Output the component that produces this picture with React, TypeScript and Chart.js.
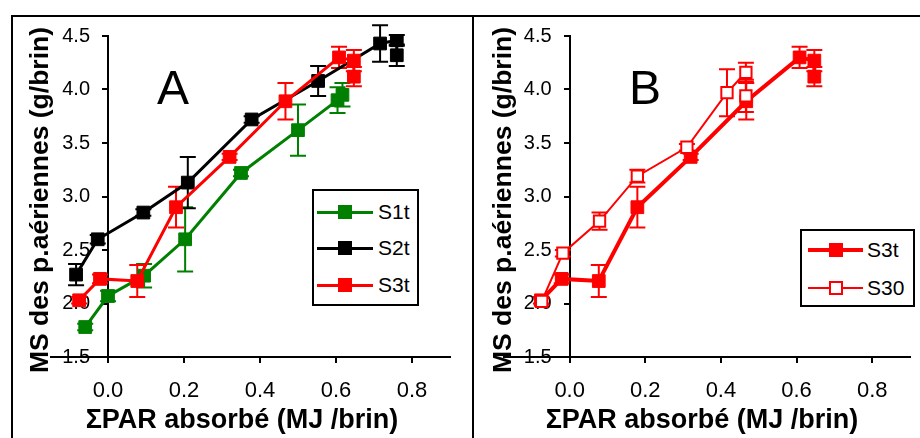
import React, { useEffect, useRef } from "react";
import { Chart, registerables } from "chart.js";

Chart.register(...registerables);

const FONT = "'Liberation Sans', Arial, Helvetica, sans-serif";

const xTicks = [0, 0.2, 0.4, 0.6, 0.8];
const yTicks = [1.5, 2.0, 2.5, 3.0, 3.5, 4.0, 4.5];

const xTitle = "ΣPAR absorbé (MJ /brin)";
const yTitle = "MS des p.aériennes (g/brin)";

// Panel A
const s1tX = [-0.06, 0.0, 0.095, 0.203, 0.35, 0.5, 0.604, 0.617];
const s1tY = [1.78, 2.07, 2.26, 2.6, 3.22, 3.62, 3.9, 3.95];
const s1tErr = [0.03, 0.05, 0.11, 0.3, 0.03, 0.24, 0.12, 0.11];

const s2tX = [-0.084, -0.027, 0.093, 0.21, 0.378, 0.553, 0.716, 0.76, 0.76];
const s2tY = [2.27, 2.6, 2.85, 3.13, 3.72, 4.08, 4.43, 4.46, 4.32];
const s2tErr = [0.1, 0.04, 0.03, 0.24, 0.03, 0.14, 0.17, 0.05, 0.1];

const s3tX = [-0.076, -0.021, 0.077, 0.179, 0.32, 0.467, 0.608, 0.647, 0.647];
const s3tY = [2.03, 2.23, 2.21, 2.9, 3.37, 3.89, 4.3, 4.27, 4.12];
const s3tErr = [0.03, 0.04, 0.15, 0.19, 0.03, 0.17, 0.1, 0.1, 0.09];

// Panel B
const s30X = [-0.074, -0.018, 0.079, 0.179, 0.31, 0.416, 0.466, 0.466];
const s30Y = [2.02, 2.47, 2.77, 3.19, 3.46, 3.97, 4.16, 3.94];
const s30Err = [0.03, 0.03, 0.08, 0.06, 0.03, 0.22, 0.09, 0.15];

const GREEN = "#008000";
const BLACK = "#000000";
const RED = "#ff0000";

type Pt = { x: number; y: number };
const pts = (xs: number[], ys: number[]): Pt[] => xs.map((x, i) => ({ x, y: ys[i] }));

const errorBars = {
  id: "errorBars",
  beforeDatasetsDraw(chart: any) {
    const { ctx } = chart;
    const xs = chart.scales.x;
    const ys = chart.scales.y;
    chart.data.datasets.forEach((ds: any, di: number) => {
      if (!ds.errors || !chart.isDatasetVisible(di)) return;
      ctx.save();
      ctx.strokeStyle = ds.borderColor;
      ctx.lineWidth = ds.errorLineWidth || 2;
      ds.data.forEach((p: Pt, j: number) => {
        const e = ds.errors[j];
        if (!e) return;
        const px = xs.getPixelForValue(p.x);
        const t = ys.getPixelForValue(p.y + e);
        const b = ys.getPixelForValue(p.y - e);
        const w = 8;
        ctx.beginPath();
        ctx.moveTo(px, t);
        ctx.lineTo(px, b);
        ctx.moveTo(px - w, t);
        ctx.lineTo(px + w, t);
        ctx.moveTo(px - w, b);
        ctx.lineTo(px + w, b);
        ctx.stroke();
      });
      ctx.restore();
    });
  },
};

// y axis sits at x = 0; move its tick labels left of the tick marks
const Y_LABEL_GAP = 18;
const shiftYLabels = {
  id: "shiftYLabels",
  beforeDraw(chart: any) {
    const s = chart.scales.y;
    const items = s.getLabelItems();
    items.forEach((it: any) => {
      if (!it._shifted) {
        const tr = it.options.translation;
        it.options.translation = [tr[0] - Y_LABEL_GAP, tr[1]];
        it._shifted = true;
      }
    });
  },
};

function buildOptions(xMin: number, pad: { left: number; right: number; top: number }) {
  return {
    animation: false,
    responsive: false,
    events: [],
    layout: { padding: { left: pad.left, right: pad.right, top: pad.top, bottom: 0 } },
    plugins: { legend: { display: false }, tooltip: { enabled: false } },
    elements: { line: { tension: 0 } },
    scales: {
      x: {
        type: "linear",
        position: "bottom",
        min: xMin,
        max: 0.9,
        afterBuildTicks: (s: any) => {
          s.ticks = xTicks.map((v) => ({ value: v }));
        },
        afterFit: (s: any) => {
          s.height = 81;
        },
        grid: { drawOnChartArea: false, drawTicks: true, tickLength: 6, color: "#000", lineWidth: 2 },
        border: { display: true, color: "#000", width: 2 },
        ticks: {
          color: "#000",
          font: { family: FONT, size: 22 },
          padding: 15,
          maxRotation: 0,
          autoSkip: false,
          callback: (v: any) => Number(v).toFixed(1),
        },
        title: { display: false },
      },
      y: {
        type: "linear",
        position: { x: 0 },
        min: 1.5,
        max: 4.5,
        z: 1,
        afterBuildTicks: (s: any) => {
          s.ticks = yTicks.map((v) => ({ value: v }));
        },
        grid: { drawOnChartArea: false, drawTicks: true, tickLength: 5, color: "#000", lineWidth: 2 },
        border: { display: true, color: "#000", width: 2 },
        ticks: {
          color: "#000",
          font: { family: FONT, size: 20 },
          padding: 0,
          autoSkip: false,
          callback: (v: any) => Number(v).toFixed(1),
        },
      },
    },
  };
}

function filledSeries(label: string, xs: number[], ys: number[], errs: number[], color: string, width: number, order: number) {
  return {
    label,
    data: pts(xs, ys),
    errors: errs,
    borderColor: color,
    backgroundColor: color,
    borderWidth: width,
    pointStyle: "rect",
    pointRadius: 9,
    pointBorderWidth: 1,
    pointBackgroundColor: color,
    pointBorderColor: color,
    errorLineWidth: 2,
    order,
  };
}

function configA() {
  return {
    type: "line",
    data: {
      datasets: [
        filledSeries("S1t", s1tX, s1tY, s1tErr, GREEN, 3, 2),
        filledSeries("S2t", s2tX, s2tY, s2tErr, BLACK, 3, 1),
        filledSeries("S3t", s3tX, s3tY, s3tErr, RED, 3, 0),
      ],
    },
    options: buildOptions(-0.15, { left: 38, right: 22, top: 19 }),
    plugins: [errorBars, shiftYLabels],
  };
}

function configB() {
  return {
    type: "line",
    data: {
      datasets: [
        filledSeries("S3t", s3tX, s3tY, s3tErr, RED, 4, 1),
        {
          label: "S30",
          data: pts(s30X, s30Y),
          errors: s30Err,
          borderColor: RED,
          backgroundColor: "#ffffff",
          borderWidth: 2,
          pointStyle: "rect",
          pointRadius: 8,
          pointBorderWidth: 2,
          pointBackgroundColor: "#ffffff",
          pointBorderColor: RED,
          errorLineWidth: 2,
          order: 0,
        },
      ],
    },
    options: buildOptions(-0.175, { left: 28.5, right: 8, top: 19 }),
    plugins: [errorBars, shiftYLabels],
  };
}

function ChartCanvas({ left, top, width, height, make }: any) {
  const ref = useRef<HTMLCanvasElement>(null);
  useEffect(() => {
    const chart = new Chart(ref.current as HTMLCanvasElement, make());
    return () => chart.destroy();
  }, []);
  return (
    <canvas
      ref={ref}
      width={width}
      height={height}
      style={{ position: "absolute", left, top, width, height }}
    />
  );
}

function YTitle({ cx, cy }: { cx: number; cy: number }) {
  return (
    <div
      style={{
        position: "absolute",
        left: cx - 220,
        top: cy - 16,
        width: 440,
        height: 32,
        lineHeight: "32px",
        textAlign: "center",
        fontFamily: FONT,
        fontWeight: "bold",
        fontSize: 26.5,
        color: "#000",
        transform: "rotate(-90deg)",
        whiteSpace: "nowrap",
      }}
    >
      {yTitle}
    </div>
  );
}

function XTitle({ cx, cy }: { cx: number; cy: number }) {
  return (
    <div
      style={{
        position: "absolute",
        left: cx - 220,
        top: cy - 16,
        width: 440,
        height: 32,
        lineHeight: "32px",
        textAlign: "center",
        fontFamily: FONT,
        fontWeight: "bold",
        fontSize: 27,
        color: "#000",
        whiteSpace: "nowrap",
      }}
    >
      {xTitle}
    </div>
  );
}

function PanelLetter({ left, text }: { left: number; text: string }) {
  return (
    <div
      style={{
        position: "absolute",
        left,
        top: 64,
        fontFamily: FONT,
        fontSize: 48,
        lineHeight: "48px",
        color: "#000",
      }}
    >
      {text}
    </div>
  );
}

type LegendItem = { label: string; color: string; lineW: number; filled: boolean; y: number };

function Legend({
  box,
  lineX1,
  lineX2,
  textX,
  items,
}: {
  box: { left: number; top: number; width: number; height: number };
  lineX1: number;
  lineX2: number;
  textX: number;
  items: LegendItem[];
}) {
  const mx = (lineX1 + lineX2) / 2;
  return (
    <>
      <div
        style={{
          position: "absolute",
          left: box.left,
          top: box.top,
          width: box.width,
          height: box.height,
          border: "2px solid #000",
          boxSizing: "border-box",
          background: "#fff",
        }}
      />
      {items.map((it) => (
        <React.Fragment key={it.label}>
          <div
            style={{
              position: "absolute",
              left: lineX1,
              top: it.y - it.lineW / 2,
              width: lineX2 - lineX1,
              height: it.lineW,
              background: it.color,
            }}
          />
          <div
            style={{
              position: "absolute",
              left: mx - 7,
              top: it.y - 7,
              width: 14,
              height: 14,
              boxSizing: "border-box",
              background: it.filled ? it.color : "#fff",
              border: `2px solid ${it.color}`,
            }}
          />
          <div
            style={{
              position: "absolute",
              left: textX,
              top: it.y - 12,
              height: 24,
              lineHeight: "24px",
              fontFamily: FONT,
              fontSize: 21,
              color: "#000",
              whiteSpace: "nowrap",
            }}
          >
            {it.label}
          </div>
        </React.Fragment>
      ))}
    </>
  );
}

export default function App() {
  return (
    <div
      style={{
        position: "fixed",
        left: 0,
        top: 0,
        width: 920,
        height: 438,
        background: "#fff",
        overflow: "hidden",
      }}
    >
      <ChartCanvas left={13} top={17} width={459} height={421} make={configA} />
      <ChartCanvas left={475} top={17} width={445} height={421} make={configB} />

      {/* panel frames */}
      <div style={{ position: "absolute", left: 11, top: 15, width: 909, height: 2, background: "#000" }} />
      <div style={{ position: "absolute", left: 11, top: 15, width: 2, height: 423, background: "#000" }} />
      <div style={{ position: "absolute", left: 472, top: 15, width: 2, height: 423, background: "#000" }} />

      <YTitle cx={39} cy={200} />
      <YTitle cx={502} cy={200} />
      <XTitle cx={242} cy={419} />
      <XTitle cx={702} cy={419} />
      <PanelLetter left={157} text="A" />
      <PanelLetter left={629} text="B" />

      <Legend
        box={{ left: 312, top: 189, width: 107, height: 117 }}
        lineX1={317}
        lineX2={373}
        textX={378}
        items={[
          { label: "S1t", color: GREEN, lineW: 3, filled: true, y: 212 },
          { label: "S2t", color: BLACK, lineW: 3, filled: true, y: 248 },
          { label: "S3t", color: RED, lineW: 3, filled: true, y: 285 },
        ]}
      />
      <Legend
        box={{ left: 800, top: 229, width: 115, height: 78 }}
        lineX1={808}
        lineX2={863}
        textX={867}
        items={[
          { label: "S3t", color: RED, lineW: 4, filled: true, y: 250 },
          { label: "S30", color: RED, lineW: 2, filled: false, y: 288 },
        ]}
      />
    </div>
  );
}
